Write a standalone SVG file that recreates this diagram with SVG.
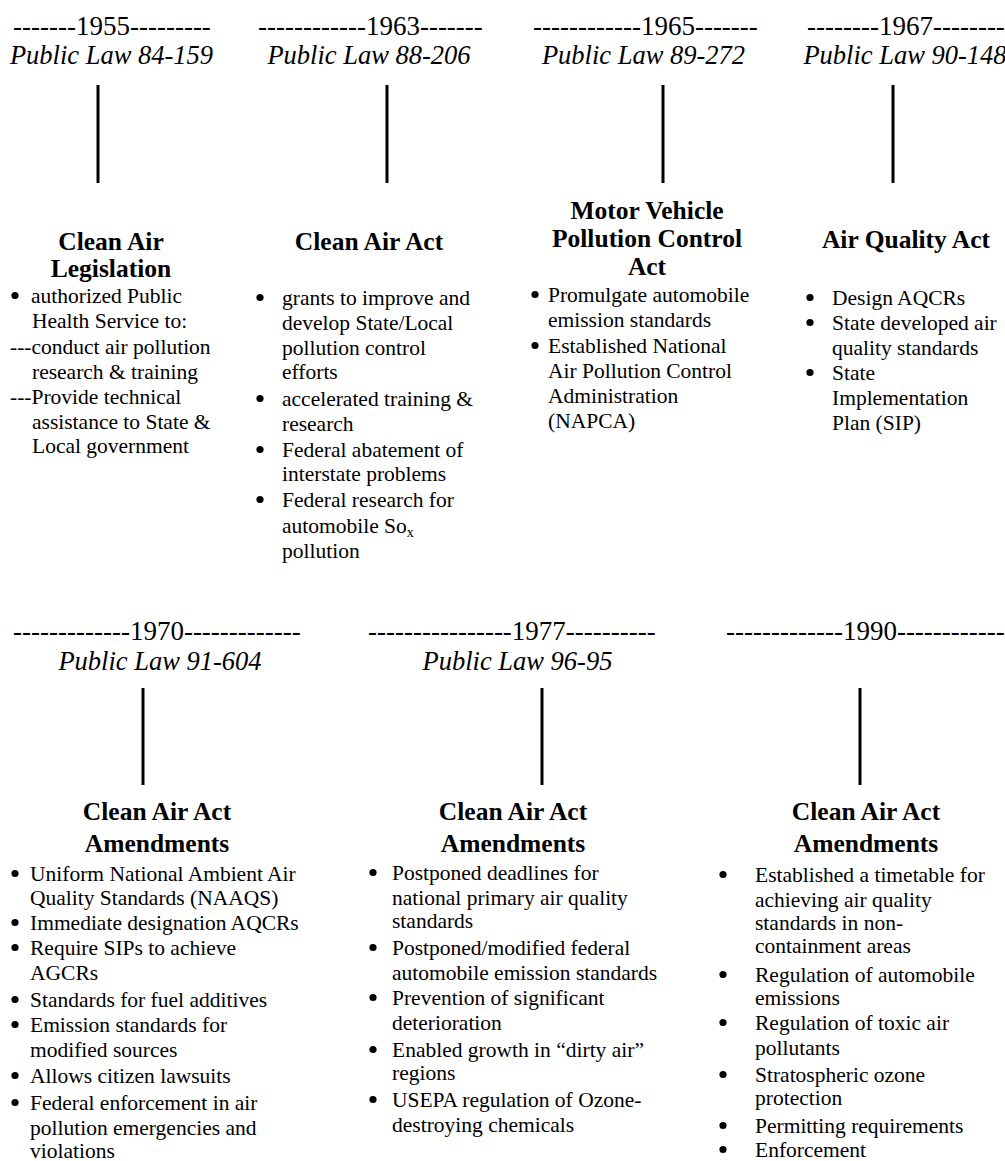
<svg xmlns="http://www.w3.org/2000/svg" width="1005" height="1161" viewBox="0 0 1005 1161">
<defs>
<circle id="dot" cx="0" cy="0" r="3.6" fill="#000"/>
</defs>
<style>
text{font-family:"Liberation Serif","Times New Roman",serif;fill:#000}
.yr{font-size:27px}
.pl{font-size:26.5px;font-style:italic;text-anchor:middle}
.hd{font-size:25.5px;font-weight:bold;text-anchor:middle}
.b{font-size:21.5px}
.conn line{stroke:#000;stroke-width:3}
</style>
<rect width="1005" height="1161" fill="#fff"/>
<g class="conn" id="connectors">
<line x1="98" y1="85" x2="98" y2="183"/>
<line x1="387" y1="85" x2="387" y2="183"/>
<line x1="663" y1="85" x2="663" y2="183"/>
<line x1="893" y1="85" x2="893" y2="183"/>
<line x1="143" y1="688" x2="143" y2="785"/>
<line x1="542" y1="688" x2="542" y2="785"/>
<line x1="860" y1="688" x2="860" y2="785"/>
</g>
<g id="n1955">
<text class="yr" x="13" y="35">-------1955---------</text>
<text class="pl" x="111.5" y="64">Public Law 84-159</text>
<text class="hd" x="111" y="250">Clean Air</text>
<text class="hd" x="111" y="277">Legislation</text>
<use href="#dot" x="15" y="295.5"/>
<text class="b" x="31" y="303">authorized Public</text>
<text class="b" x="32" y="328">Health Service to:</text>
<text class="b" x="10" y="354">---conduct air pollution</text>
<text class="b" x="32" y="379">research &amp; training</text>
<text class="b" x="10" y="404">---Provide technical</text>
<text class="b" x="32" y="429">assistance to State &amp;</text>
<text class="b" x="32" y="453">Local government</text>
</g>
<g id="n1963">
<text class="yr" x="258" y="35">------------1963-------</text>
<text class="pl" x="369" y="64">Public Law 88-206</text>
<text class="hd" x="369" y="250">Clean Air Act</text>
<use href="#dot" x="260" y="297.5"/>
<text class="b" x="282" y="305">grants to improve and</text>
<text class="b" x="282" y="330">develop State/Local</text>
<text class="b" x="282" y="355">pollution control</text>
<text class="b" x="282" y="379">efforts</text>
<use href="#dot" x="260" y="398.5"/>
<text class="b" x="282" y="406">accelerated training &amp;</text>
<text class="b" x="282" y="431">research</text>
<use href="#dot" x="260" y="449.5"/>
<text class="b" x="282" y="457">Federal abatement of</text>
<text class="b" x="282" y="481">interstate problems</text>
<use href="#dot" x="260" y="499.5"/>
<text class="b" x="282" y="507">Federal research for</text>
<text class="b" x="282" y="533">automobile So<tspan font-size="14" dy="4">x</tspan></text>
<text class="b" x="282" y="558">pollution</text>
</g>
<g id="n1965">
<text class="yr" x="533" y="35">------------1965-------</text>
<text class="pl" x="643.5" y="64">Public Law 89-272</text>
<text class="hd" x="647" y="219">Motor Vehicle</text>
<text class="hd" x="647" y="247">Pollution Control</text>
<text class="hd" x="647" y="275">Act</text>
<use href="#dot" x="535" y="294.5"/>
<text class="b" x="548" y="302">Promulgate automobile</text>
<text class="b" x="548" y="327">emission standards</text>
<use href="#dot" x="535" y="345.5"/>
<text class="b" x="548" y="353">Established National</text>
<text class="b" x="548" y="378">Air Pollution Control</text>
<text class="b" x="548" y="403">Administration</text>
<text class="b" x="548" y="428">(NAPCA)</text>
</g>
<g id="n1967">
<text class="yr" x="807" y="35">--------1967--------</text>
<text class="pl" x="905" y="64">Public Law 90-148</text>
<text class="hd" x="906" y="248">Air Quality Act</text>
<use href="#dot" x="810" y="297.5"/>
<text class="b" x="832" y="305">Design AQCRs</text>
<use href="#dot" x="810" y="322.5"/>
<text class="b" x="832" y="330">State developed air</text>
<text class="b" x="832" y="355">quality standards</text>
<use href="#dot" x="810" y="372.5"/>
<text class="b" x="832" y="380">State</text>
<text class="b" x="832" y="405">Implementation</text>
<text class="b" x="832" y="430">Plan (SIP)</text>
</g>
<g id="n1970">
<text class="yr" x="13" y="640">-------------1970-------------</text>
<text class="pl" x="160" y="670">Public Law 91-604</text>
<text class="hd" x="157" y="820">Clean Air Act</text>
<text class="hd" x="157" y="852">Amendments</text>
<use href="#dot" x="15" y="873.5"/>
<text class="b" x="30" y="881">Uniform National Ambient Air</text>
<text class="b" x="30" y="905">Quality Standards (NAAQS)</text>
<use href="#dot" x="15" y="922.5"/>
<text class="b" x="30" y="930">Immediate designation AQCRs</text>
<use href="#dot" x="15" y="947.5"/>
<text class="b" x="30" y="955">Require SIPs to achieve</text>
<text class="b" x="30" y="980">AGCRs</text>
<use href="#dot" x="15" y="999.5"/>
<text class="b" x="30" y="1007">Standards for fuel additives</text>
<use href="#dot" x="15" y="1024.5"/>
<text class="b" x="30" y="1032">Emission standards for</text>
<text class="b" x="30" y="1057">modified sources</text>
<use href="#dot" x="15" y="1075.5"/>
<text class="b" x="30" y="1083">Allows citizen lawsuits</text>
<use href="#dot" x="15" y="1102.5"/>
<text class="b" x="30" y="1110">Federal enforcement in air</text>
<text class="b" x="30" y="1135">pollution emergencies and</text>
<text class="b" x="30" y="1158">violations</text>
</g>
<g id="n1977">
<text class="yr" x="368" y="640">----------------1977----------</text>
<text class="pl" x="517.5" y="670">Public Law 96-95</text>
<text class="hd" x="513" y="820">Clean Air Act</text>
<text class="hd" x="513" y="852">Amendments</text>
<use href="#dot" x="373" y="872.5"/>
<text class="b" x="392" y="880">Postponed deadlines for</text>
<text class="b" x="392" y="905">national primary air quality</text>
<text class="b" x="392" y="928">standards</text>
<use href="#dot" x="373" y="947.5"/>
<text class="b" x="392" y="955">Postponed/modified federal</text>
<text class="b" x="392" y="980">automobile emission standards</text>
<use href="#dot" x="373" y="997.5"/>
<text class="b" x="392" y="1005">Prevention of significant</text>
<text class="b" x="392" y="1030">deterioration</text>
<use href="#dot" x="373" y="1049.5"/>
<text class="b" x="392" y="1057">Enabled growth in “dirty air”</text>
<text class="b" x="392" y="1080">regions</text>
<use href="#dot" x="373" y="1099.5"/>
<text class="b" x="392" y="1107">USEPA regulation of Ozone-</text>
<text class="b" x="392" y="1132">destroying chemicals</text>
</g>
<g id="n1990">
<text class="yr" x="726" y="640">-------------1990------------</text>
<text class="hd" x="866" y="820">Clean Air Act</text>
<text class="hd" x="866" y="852">Amendments</text>
<use href="#dot" x="723" y="874.5"/>
<text class="b" x="755" y="882">Established a timetable for</text>
<text class="b" x="755" y="907">achieving air quality</text>
<text class="b" x="755" y="930">standards in non-</text>
<text class="b" x="755" y="953">containment areas</text>
<use href="#dot" x="723" y="974.5"/>
<text class="b" x="755" y="982">Regulation of automobile</text>
<text class="b" x="755" y="1005">emissions</text>
<use href="#dot" x="723" y="1022.5"/>
<text class="b" x="755" y="1030">Regulation of toxic air</text>
<text class="b" x="755" y="1055">pollutants</text>
<use href="#dot" x="723" y="1074.5"/>
<text class="b" x="755" y="1082">Stratospheric ozone</text>
<text class="b" x="755" y="1105">protection</text>
<use href="#dot" x="723" y="1125.5"/>
<text class="b" x="755" y="1133">Permitting requirements</text>
<use href="#dot" x="723" y="1149.5"/>
<text class="b" x="755" y="1157">Enforcement</text>
</g>
</svg>
